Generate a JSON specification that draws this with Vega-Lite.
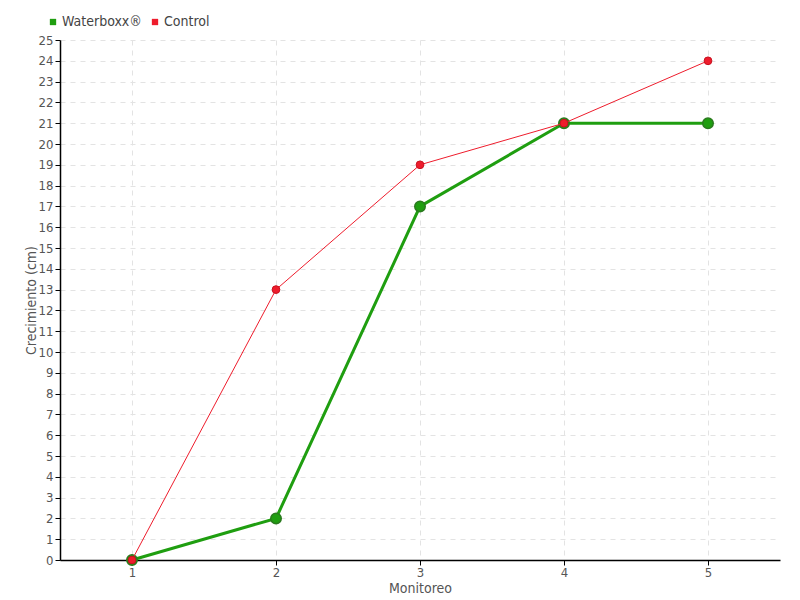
{
  "$schema": "https://vega.github.io/schema/vega-lite/v6.json",
  "width": 720,
  "height": 520,
  "autosize": {"type": "none"},
  "padding": {"left": 60, "top": 40, "right": 20, "bottom": 40},
  "background": "white",
  "config": {
    "font": "DejaVu Sans Condensed",
    "view": {"stroke": null},
    "axis": {
      "labelColor": "#555555",
      "titleColor": "#555555",
      "labelFontSize": 13,
      "titleFontSize": 14,
      "titleFontWeight": "normal",
      "domainColor": "#000000",
      "domainWidth": 1.5,
      "tickColor": "#000000",
      "tickSize": 5,
      "gridColor": "#e3e3e3",
      "gridDash": [5, 5],
      "gridWidth": 1
    }
  },
  "data": {
    "values": [
      {"Monitoreo": 1, "serie": "Waterboxx®", "valor": 0},
      {"Monitoreo": 2, "serie": "Waterboxx®", "valor": 2},
      {"Monitoreo": 3, "serie": "Waterboxx®", "valor": 17},
      {"Monitoreo": 4, "serie": "Waterboxx®", "valor": 21},
      {"Monitoreo": 5, "serie": "Waterboxx®", "valor": 21},
      {"Monitoreo": 1, "serie": "Control", "valor": 0},
      {"Monitoreo": 2, "serie": "Control", "valor": 13},
      {"Monitoreo": 3, "serie": "Control", "valor": 19},
      {"Monitoreo": 4, "serie": "Control", "valor": 21},
      {"Monitoreo": 5, "serie": "Control", "valor": 24}
    ]
  },
  "encoding": {
    "x": {
      "field": "Monitoreo",
      "type": "quantitative",
      "scale": {"domain": [0.5, 5.5], "nice": false, "zero": false},
      "axis": {"values": [1, 2, 3, 4, 5], "title": "Monitoreo", "titlePadding": 2, "labelPadding": 1}
    },
    "y": {
      "field": "valor",
      "type": "quantitative",
      "scale": {"domain": [0, 25], "nice": false},
      "axis": {"values": [0,1,2,3,4,5,6,7,8,9,10,11,12,13,14,15,16,17,18,19,20,21,22,23,24,25], "title": "Crecimiento (cm)", "titlePadding": 0, "labelPadding": 2}
    },
    "color": {
      "field": "serie",
      "type": "nominal",
      "scale": {"domain": ["Waterboxx®", "Control"], "range": ["#1f9e10", "#ee1c2c"]},
      "legend": {
        "orient": "none",
        "legendX": -14,
        "legendY": -25,
        "direction": "horizontal",
        "title": null,
        "symbolType": "square",
        "symbolSize": 40,
        "symbolStrokeWidth": 0,
        "labelFontSize": 14,
        "labelColor": "#444444",
        "columnPadding": 6,
        "labelOffset": 2
      }
    }
  },
  "layer": [
    {
      "transform": [{"filter": "datum.serie === 'Waterboxx®'"}],
      "mark": {"type": "line", "strokeWidth": 3}
    },
    {
      "transform": [{"filter": "datum.serie === 'Waterboxx®'"}],
      "mark": {"type": "point", "filled": true, "size": 110, "stroke": "#2a7a1e", "strokeWidth": 1.5, "opacity": 1}
    },
    {
      "transform": [{"filter": "datum.serie === 'Control'"}],
      "mark": {"type": "line", "strokeWidth": 1}
    },
    {
      "transform": [{"filter": "datum.serie === 'Control'"}],
      "mark": {"type": "point", "filled": true, "size": 60, "stroke": "#c8101e", "strokeWidth": 1, "opacity": 1}
    }
  ]
}
